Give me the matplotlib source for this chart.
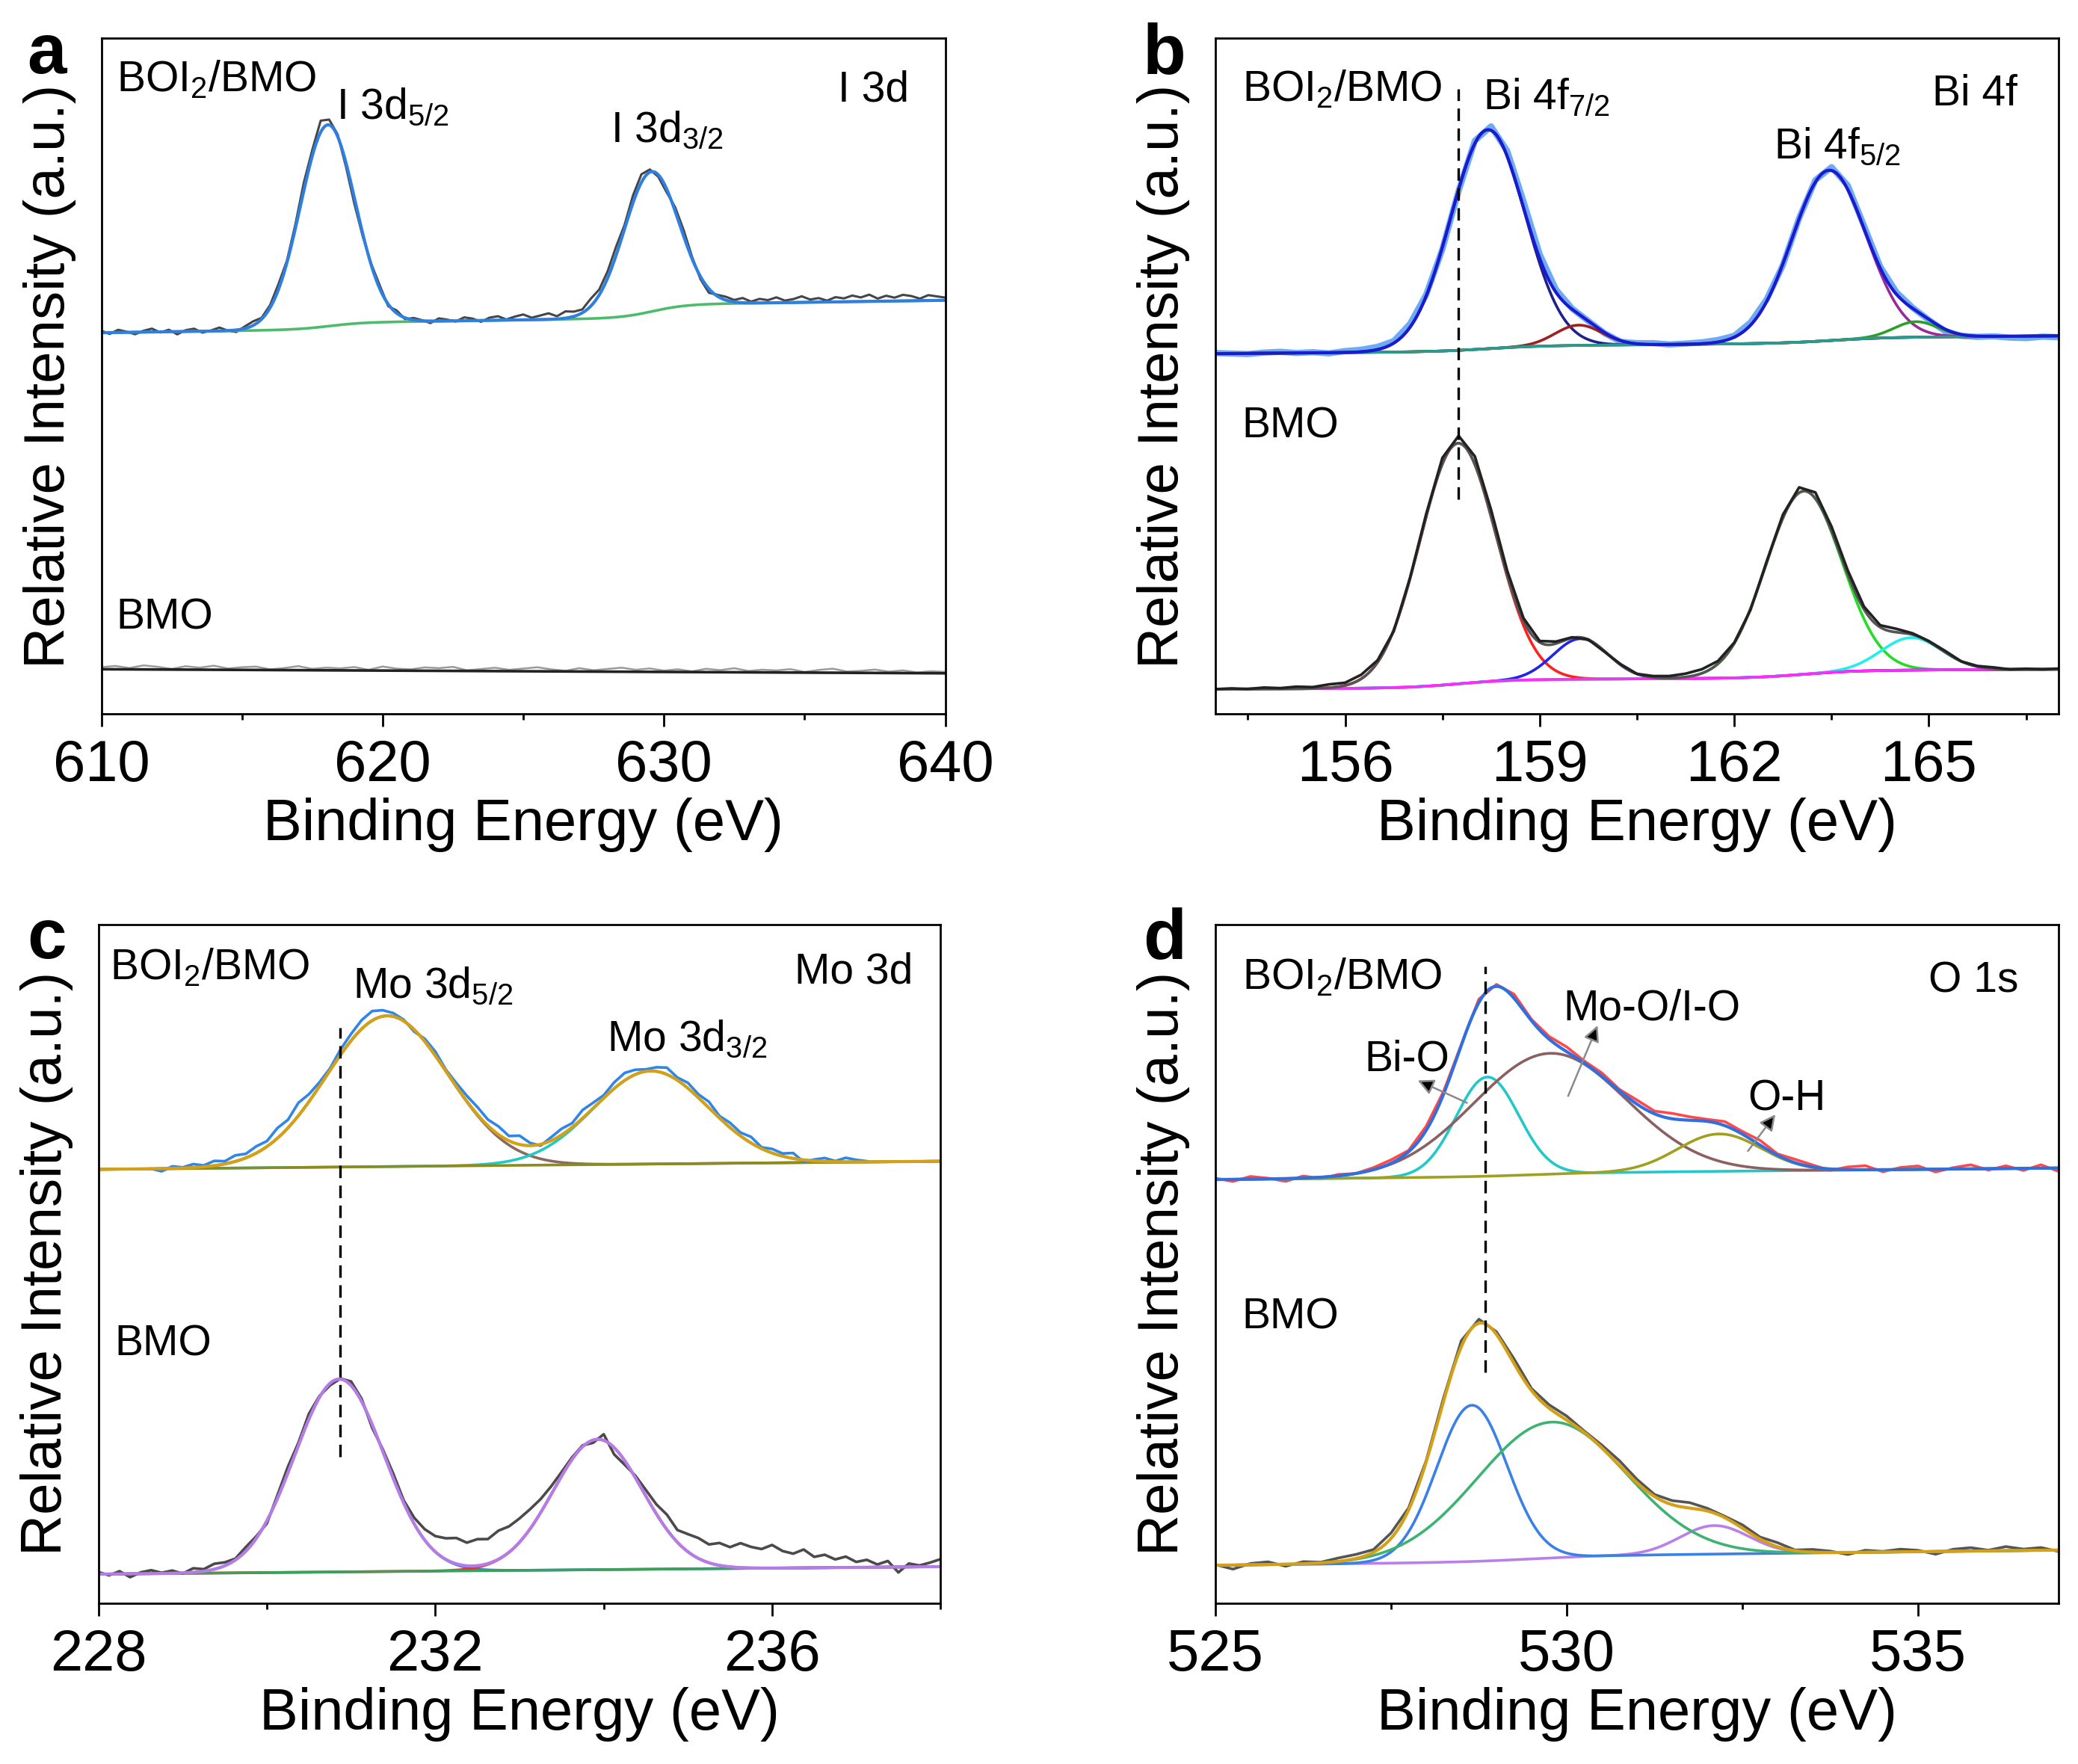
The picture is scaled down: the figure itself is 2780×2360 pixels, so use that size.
import numpy as np
import matplotlib
matplotlib.use("Agg")
import matplotlib.pyplot as plt

plt.rcParams['font.family'] = ['Liberation Sans', 'DejaVu Sans']
plt.rcParams['mathtext.fontset'] = 'custom'
plt.rcParams['mathtext.rm'] = 'Liberation Sans'
plt.rcParams['mathtext.it'] = 'Liberation Sans:italic'
plt.rcParams['mathtext.bf'] = 'Liberation Sans:bold'

# ======================= DATA =======================
# Panel a : I 3d
a_xlim = [610, 640]
a_major = [610, 620, 630, 640]
a_minor = [615, 625, 635]
a_top_bg = [56.4, 0.06]                                   # level at left edge, slope / eV
a_top_steps = [[618.1, 1.0, 0.6], [629.6, 2.0, 0.6]]      # centre, height, width
a_top_peaks = [[618.05, 29.8, 2.3], [629.55, 20.7, 2.3]]  # centre, height, FWHM
a_top_resid = [0.3, -0.2, 0.4, 0.1, -0.3, 0.2, 0.5, -0.1, 0.3, -0.4,
               0.2, 0.4, -0.2, 0.1, 0.5, 0.0, -0.3, 0.3, 0.6, 0.2,
               0.4, 0.8, 0.3, 0.6, 1.2, 0.9, 1.7, 0.8, 0.3, -0.6,
               -0.9, -0.4, 0.2, 0.5, -0.3, 0.4, -0.2, 0.3, 0.1, -0.3,
               0.4, 0.2, -0.1, 0.5, 0.3, -0.2, 0.4, 0.6, 0.1, 0.5,
               0.8, 0.3, 0.6, 0.9, 0.4, 1.0, 0.7, 0.5, 1.1, 0.8,
               1.0, 1.3, 0.6, 1.1, 1.2, 0.4, -0.3, -0.5, 0.6, 0.9,
               0.3, -0.4, -0.6, 0.2, 0.5, 0.3, 0.7, 0.2, 0.6, 0.4,
               0.8, 0.3, 0.5, 0.9, 0.4, 0.6, 0.2, 0.7, 0.5, 0.9,
               0.6, 1.0, 0.4, 0.8, 0.5, 0.9, 0.7, 0.3, 0.8, 0.6,
               0.4]
a_bmo_bg = [6.6, -0.02]
a_bmo_resid = [0.3, 0.5, 0.2, 0.6, 0.4, 0.1, 0.5, 0.3, 0.6, 0.2,
               0.4, 0.5, 0.1, 0.3, 0.6, 0.2, 0.4, 0.3, 0.5, 0.1,
               0.6, 0.3, 0.2, 0.5, 0.4, 0.6, 0.1, 0.3, 0.5, 0.2,
               0.4, 0.6, 0.3, 0.1, 0.5, 0.2, 0.4, 0.6, 0.3, 0.5,
               0.2, 0.4, 0.1, 0.5, 0.3, 0.6, 0.2, 0.4, 0.3, 0.5,
               0.1, 0.4, 0.6, 0.2, 0.3, 0.5, 0.2, 0.4, 0.1, 0.3,
               0.2]

# Panel b : Bi 4f
b_xlim = [154, 167]
b_major = [156, 159, 162, 165]
b_minor = [154.5, 157.5, 160.5, 163.5, 166.5]
b_top_bg = [53.3, 0.08]
b_top_steps = [[158.2, 0.8, 0.4], [163.5, 0.8, 0.4]]
b_top_peaks = [[158.2, 32.4, 1.35], [163.46, 25.2, 1.35], [159.6, 3.0, 0.85], [164.8, 2.3, 0.8]]
b_top_resid = [0.1, 0.0, -0.1, 0.1, 0.2, 0.0, 0.1, -0.1, 0.2, 0.3,
               0.4, 0.3, 0.5, 0.2, -0.3, -0.2, 0.4, 0.6, 0.8, 0.9,
               0.6, 0.4, 0.1, 0.0, -0.1, -0.2, 0.1, 0.2, 0.0, 0.1,
               0.2, 0.3, 0.2, 0.4, 0.3, -0.2, 0.1, 0.3, 0.5, 0.6,
               0.4, 0.2, 0.3, 0.1, -0.1, -0.3, -0.2, -0.1, 0.0, -0.2,
               -0.3, -0.1, -0.2]
b_bmo_bg = [3.65, 0.05]
b_bmo_steps = [[157.74, 1.2, 0.4], [163.07, 1.1, 0.4]]
b_bmo_peaks = [[157.74, 35.6, 1.38], [163.07, 27.1, 1.38], [159.63, 6.0, 1.0], [164.73, 4.8, 1.1]]
b_bmo_resid = [0.0, 0.1, 0.0, 0.2, 0.1, 0.3, 0.2, 0.5, 0.4, 0.6,
               0.3, -0.2, 0.1, 0.4, 0.9, 1.1, 1.2, 1.0, 0.7, 0.4,
               0.2, 0.3, 0.1, 0.0, -0.1, 0.1, 0.0, 0.2, 0.3, 0.5,
               0.6, 0.4, 0.1, -0.2, 0.2, 0.5, 0.8, 0.9, 0.7, 0.6,
               0.4, 0.3, 0.5, 0.2, 0.1, 0.2, 0.0, 0.1, 0.2, 0.0,
               0.1, 0.0, 0.1]
b_dash = [157.74, 31.7, 92.5]

# Panel c : Mo 3d
c_xlim = [228, 238]
c_major = [228, 232, 236]
c_minor = [230, 234, 238]
c_top_bg = [63.9, 0.12]
c_top_peaks = [[231.43, 22.2, 1.7], [234.56, 13.7, 1.6]]
c_top_raw_range = [228.625, 237.125]
c_top_resid = [0.0, -0.4, 0.3, 0.1, 0.5, 0.2, 0.7, 0.4, 0.9, 0.6,
               1.0, 0.8, 1.5, 1.2, 1.9, 1.1, 0.6, 0.3, 0.8, 1.0,
               1.3, 1.4, 0.9, 0.5, 0.2, -0.3, 0.4, 0.6, 0.2, 0.5,
               0.8, 1.1, 0.9, 1.2, 0.7, 1.3, 0.4, -0.2, 0.5, 0.9,
               0.6, 1.2, 0.8, 0.4, 0.9, 1.1, 0.7, 0.3, 0.6, 1.0,
               0.4, 0.8, 0.5, 0.9, 0.3, 0.7, 0.5, 0.9, 0.2, 0.6,
               0.4, 0.8, -0.3, 0.2, 0.5, 0.1, 0.6, 0.3, 0.1]
c_bmo_bg = [4.3, 0.11]
c_bmo_peaks = [[230.86, 28.4, 1.25], [233.93, 19.2, 1.25]]
c_bmo_resid = [0.3, -0.2, 0.4, -0.5, 0.2, 0.5, 0.1, 0.4, -0.1, 0.6,
               0.3, 0.8, 0.5, 0.2, 0.6, 0.3, -0.4, 0.5, 0.9, 0.4,
               0.8, 0.2, -0.3, 0.1, 0.6, 0.4, -0.5, 0.3, 0.7, 0.4,
               0.9, 1.6, 2.3, 3.1, 3.8, 3.4, 3.9, 3.6, 4.2, 3.8,
               3.5, 2.9, 2.0, 1.2, 0.6, 0.3, 0.2, -0.4, 0.9, -1.0,
               -0.6, 0.3, 0.9, 1.4, 2.2, 1.8, 2.6, 3.0, 2.7, 3.3,
               2.9, 3.6, 3.1, 2.8, 3.4, 2.5, 2.1, 2.7, 1.6, 1.9,
               1.2, 1.6, 0.8, 1.1, 0.4, 0.9, -0.8, 0.5, 0.2, 0.6, 1.1]
c_dash = [230.87, 21.6, 84.8]

# Panel d : O 1s
d_xlim = [525, 537]
d_major = [525, 530, 535]
d_minor = [527.5, 532.5]
d_top_bg = [62.4, 0.10]
d_top_steps = [[529.5, 0.5, 0.5]]
d_top_peaks = [[528.87, 14.6, 1.05], [529.76, 17.8, 2.55], [532.17, 5.5, 1.4]]   # Bi-O, Mo-O/I-O, O-H
d_top_resid = [0.2, -0.3, 0.4, 0.1, -0.4, 0.3, -0.2, 0.2, 0.0, 0.3,
               0.5, 0.2, 0.6, 0.4, 0.1, 0.5, 0.3, 0.6, 0.2, 0.4,
               0.7, 0.3, 0.5, 0.2, 0.6, 0.4, 0.8, 0.5, 0.3, 0.6,
               0.4, 0.7, 0.2, 0.5, 0.3, -0.2, 0.4, 0.6, -0.3, 0.3,
               0.5, -0.4, 0.2, 0.6, -0.2, 0.4, -0.3, 0.5, -0.5]
d_bmo_bg = [5.6, 0.12]
d_bmo_steps = [[529.5, 0.8, 0.5]]
d_bmo_peaks = [[528.65, 23.0, 1.18], [529.78, 20.0, 2.5], [532.1, 4.2, 1.15]]
d_bmo_resid = [0.1, -0.6, 0.2, 0.4, -0.3, 0.3, 0.1, 0.5, 0.6, 0.4,
               0.8, 0.3, 0.2, 0.5, 0.9, 0.6, 0.4, 0.7, 0.3, 0.5,
               0.6, 0.2, 0.4, 0.7, 0.5, 0.3, 0.6, 0.8, 0.4, 0.2,
               0.5, 0.3, 0.6, 0.1, 0.4, 0.2, -0.3, 0.3, 0.1, 0.4,
               0.2, -0.4, 0.3, 0.5, 0.1, 0.6, 0.2, 0.4, -0.2]
d_dash = [528.84, 34.0, 93.8]
d_labels = ["Bi-O", "Mo-O/I-O", "O-H"]
# ====================================================


def background(x, x0, lin, steps):
    y = lin[0] + lin[1] * (x - x0)
    for c, h, w in steps:
        y = y + h / (1.0 + np.exp(-(x - c) / w))
    return y


def peak(x, c, a, fwhm):
    s = fwhm / 2.3548
    return a * np.exp(-0.5 * ((x - c) / s) ** 2)


def model(x, x0, lin, steps, peaks):
    bg = background(x, x0, lin, steps)
    comps = [bg + peak(x, *p) for p in peaks]
    env = bg + sum(peak(x, *p) for p in peaks)
    return bg, comps, env


def raw(x0, lin, steps, peaks, r0, r1, resid):
    xr = np.linspace(r0, r1, len(resid))
    _, _, env = model(xr, x0, lin, steps, peaks)
    return xr, env + np.array(resid)


LW = 1.3
FS_TXT = 20.5
W, H = 2780, 2360
fig = plt.figure(figsize=(W / 200, H / 200), dpi=200)

rects = {
    'a': [135.5 / W, 1 - 955 / H, 1129 / W, 904 / H],
    'b': [1626 / W, 1 - 955 / H, 1128 / W, 904 / H],
    'c': [131.8 / W, 1 - 2145 / H, 1126.4 / W, 908.5 / H],
    'd': [1626 / W, 1 - 2145 / H, 1128 / W, 908.5 / H],
}


def setup(ax, xlim, major, minor):
    ax.set_xlim(*xlim)
    ax.set_ylim(0, 100)
    ax.set_yticks([])
    ax.set_xticks(major)
    ax.set_xticks(minor, minor=True)
    ax.tick_params(axis='x', which='major', direction='out', length=6, width=1.0,
                   labelsize=28, pad=6)
    ax.tick_params(axis='x', which='minor', direction='out', length=3, width=1.0)
    for s in ax.spines.values():
        s.set_linewidth(1.0)
    ax.set_xlabel('Binding Energy (eV)', fontsize=28, labelpad=2)
    ax.set_ylabel('Relative Intensity (a.u.)', fontsize=27.5)
    ax.yaxis.set_label_coords(-0.03, 0.5)


arrow_kw = dict(arrowstyle='-|>', ec='#8a8a8a', fc='black', lw=0.9, mutation_scale=16,
                shrinkA=0, shrinkB=0)

# ---------------- panel a ----------------
ax = fig.add_axes(rects['a'])
setup(ax, a_xlim, a_major, a_minor)
x = np.linspace(a_xlim[0], a_xlim[1], 800)
bg, comps, env = model(x, a_xlim[0], a_top_bg, a_top_steps, a_top_peaks)
xr, yr = raw(a_xlim[0], a_top_bg, a_top_steps, a_top_peaks, a_xlim[0], a_xlim[1], a_top_resid)
ax.plot(xr, yr, color='#454545', lw=1.1)
ax.plot(x, bg, color='#4cbb6c', lw=LW)
ax.plot(x, env, color='#2f7fe0', lw=LW + 0.2)
bgb = background(x, a_xlim[0], a_bmo_bg, [])
xr, yr = raw(a_xlim[0], a_bmo_bg, [], [], a_xlim[0], a_xlim[1], a_bmo_resid)
ax.plot(xr, yr, color='#9a9a9a', lw=0.9)
ax.plot(x, bgb, color='#222222', lw=LW)
ax.text(0.018, 0.922, r'BOI$_2$/BMO', transform=ax.transAxes, fontsize=FS_TXT, va='baseline')
ax.text(618.35, 88.0, r'I 3d$_{5/2}$', fontsize=FS_TXT, va='baseline')
ax.text(628.12, 84.6, r'I 3d$_{3/2}$', fontsize=FS_TXT, va='baseline')
ax.text(0.957, 0.907, 'I 3d', transform=ax.transAxes, fontsize=FS_TXT, va='baseline', ha='right')
ax.text(0.018, 0.126, 'BMO', transform=ax.transAxes, fontsize=FS_TXT, va='baseline')

# ---------------- panel b ----------------
ax = fig.add_axes(rects['b'])
setup(ax, b_xlim, b_major, b_minor)
x = np.linspace(b_xlim[0], b_xlim[1], 800)
bg, comps, env = model(x, b_xlim[0], b_top_bg, b_top_steps, b_top_peaks)
xr, yr = raw(b_xlim[0], b_top_bg, b_top_steps, b_top_peaks, b_xlim[0], b_xlim[1], b_top_resid)
ax.plot(xr, yr, color='#5ea2f2', lw=3.0, alpha=0.9)
ax.plot(x, comps[0], color='#20208a', lw=LW)
ax.plot(x, comps[1], color='#9a2a9a', lw=LW)
ax.plot(x, comps[2], color='#a02020', lw=LW)
ax.plot(x, comps[3], color='#2aa02a', lw=LW)
ax.plot(x, bg, color='#2a9a90', lw=LW)
ax.plot(x, env, color='#1a1ad0', lw=LW + 0.2)

bg, comps, env = model(x, b_xlim[0], b_bmo_bg, b_bmo_steps, b_bmo_peaks)
xr, yr = raw(b_xlim[0], b_bmo_bg, b_bmo_steps, b_bmo_peaks, b_xlim[0], b_xlim[1], b_bmo_resid)
ax.plot(x, comps[0], color='#ff2020', lw=LW)
ax.plot(x, comps[1], color='#22dd22', lw=LW)
ax.plot(x, comps[2], color='#2222ee', lw=LW)
ax.plot(x, comps[3], color='#22eeee', lw=LW)
ax.plot(x, bg, color='#ff2aff', lw=LW)
ax.plot(x, env, color='#555555', lw=LW)
ax.plot(xr, yr, color='#222222', lw=LW)
ax.plot([b_dash[0], b_dash[0]], [b_dash[1], b_dash[2]], color='black', lw=1.2, ls=(0, (5, 3)))
ax.text(0.0316, 0.907, r'BOI$_2$/BMO', transform=ax.transAxes, fontsize=FS_TXT, va='baseline')
ax.text(158.13, 89.45, r'Bi 4f$_{7/2}$', fontsize=FS_TXT, va='baseline')
ax.text(162.61, 82.2, r'Bi 4f$_{5/2}$', fontsize=FS_TXT, va='baseline')
ax.text(0.951, 0.900, 'Bi 4f', transform=ax.transAxes, fontsize=FS_TXT, va='baseline', ha='right')
ax.text(0.0316, 0.409, 'BMO', transform=ax.transAxes, fontsize=FS_TXT, va='baseline')

# ---------------- panel c ----------------
ax = fig.add_axes(rects['c'])
setup(ax, c_xlim, c_major, c_minor)
x = np.linspace(c_xlim[0], c_xlim[1], 800)
bg, comps, env = model(x, c_xlim[0], c_top_bg, [], c_top_peaks)
xr, yr = raw(c_xlim[0], c_top_bg, [], c_top_peaks, c_top_raw_range[0], c_top_raw_range[1], c_top_resid)
ax.plot(x, comps[0], color='#8a6a60', lw=LW)
ax.plot(x, comps[1], color='#20c8c8', lw=LW)
ax.plot(x, bg, color='#8c8c1e', lw=LW)
ax.plot(xr, yr, color='#2f86e8', lw=LW)
ax.plot(x, env, color='#d4a017', lw=LW + 0.2)

bg, comps, env = model(x, c_xlim[0], c_bmo_bg, [], c_bmo_peaks)
xr, yr = raw(c_xlim[0], c_bmo_bg, [], c_bmo_peaks, c_xlim[0], c_xlim[1], c_bmo_resid)
ax.plot(x, comps[0], color='#3a7fe0', lw=LW)
ax.plot(x, comps[1], color='#ee3030', lw=LW)
ax.plot(x, bg, color='#3aa05a', lw=LW)
ax.plot(xr, yr, color='#4a4a4a', lw=LW)
ax.plot(x, env, color='#b57ce6', lw=LW + 0.2)
ax.plot([c_dash[0], c_dash[0]], [c_dash[1], c_dash[2]], color='black', lw=1.2, ls=(0, (5, 3)))
ax.text(0.0134, 0.9195, r'BOI$_2$/BMO', transform=ax.transAxes, fontsize=FS_TXT, va='baseline')
ax.text(231.02, 89.2, r'Mo 3d$_{5/2}$', fontsize=FS_TXT, va='baseline')
ax.text(234.04, 81.3, r'Mo 3d$_{3/2}$', fontsize=FS_TXT, va='baseline')
ax.text(0.9676, 0.913, 'Mo 3d', transform=ax.transAxes, fontsize=FS_TXT, va='baseline', ha='right')
ax.text(0.019, 0.365, 'BMO', transform=ax.transAxes, fontsize=FS_TXT, va='baseline')

# ---------------- panel d ----------------
ax = fig.add_axes(rects['d'])
setup(ax, d_xlim, d_major, d_minor)
x = np.linspace(d_xlim[0], d_xlim[1], 800)
bg, comps, env = model(x, d_xlim[0], d_top_bg, d_top_steps, d_top_peaks)
xr, yr = raw(d_xlim[0], d_top_bg, d_top_steps, d_top_peaks, d_xlim[0], d_xlim[1], d_top_resid)
ax.plot(xr, yr, color='#ff4848', lw=LW)
ax.plot(x, comps[0], color='#22c8c8', lw=LW)
ax.plot(x, comps[1], color='#8b6060', lw=LW)
ax.plot(x, comps[2], color='#a0a020', lw=LW)
ax.plot(x, env, color='#2f6fe0', lw=LW + 0.2)

bg, comps, env = model(x, d_xlim[0], d_bmo_bg, d_bmo_steps, d_bmo_peaks)
xr, yr = raw(d_xlim[0], d_bmo_bg, d_bmo_steps, d_bmo_peaks, d_xlim[0], d_xlim[1], d_bmo_resid)
ax.plot(xr, yr, color='#555555', lw=LW)
ax.plot(x, comps[2], color='#b880e8', lw=LW)
ax.plot(x, comps[0], color='#3a80e8', lw=LW)
ax.plot(x, comps[1], color='#3cb371', lw=LW)
ax.plot(x, env, color='#d4a017', lw=LW + 0.2)
ax.plot([d_dash[0], d_dash[0]], [d_dash[1], d_dash[2]], color='black', lw=1.2, ls=(0, (5, 3)))
ax.text(0.0316, 0.9046, r'BOI$_2$/BMO', transform=ax.transAxes, fontsize=FS_TXT, va='baseline')
ax.text(0.9526, 0.900, 'O 1s', transform=ax.transAxes, fontsize=FS_TXT, va='baseline', ha='right')
ax.text(0.0316, 0.405, 'BMO', transform=ax.transAxes, fontsize=FS_TXT, va='baseline')
ax.text(527.12, 78.4, d_labels[0], fontsize=FS_TXT, va='baseline')
ax.text(529.95, 85.9, d_labels[1], fontsize=FS_TXT, va='baseline')
ax.text(532.58, 72.6, d_labels[2], fontsize=FS_TXT, va='baseline')
ax.annotate('', xy=(527.88, 77.0), xytext=(528.58, 73.7), arrowprops=arrow_kw)
ax.annotate('', xy=(530.44, 85.1), xytext=(530.02, 74.7), arrowprops=arrow_kw)
ax.annotate('', xy=(532.97, 72.0), xytext=(532.58, 66.6), arrowprops=arrow_kw)

# ---------------- panel letters ----------------
for letter, (fx, fy) in {'a': (0.013, 0.9586), 'b': (0.550, 0.9586),
                         'c': (0.013, 0.4568), 'd': (0.550, 0.4568)}.items():
    fig.text(fx, fy, letter, fontsize=34, fontweight='bold', va='baseline')

fig.savefig('out.png', dpi=200, facecolor='white')
